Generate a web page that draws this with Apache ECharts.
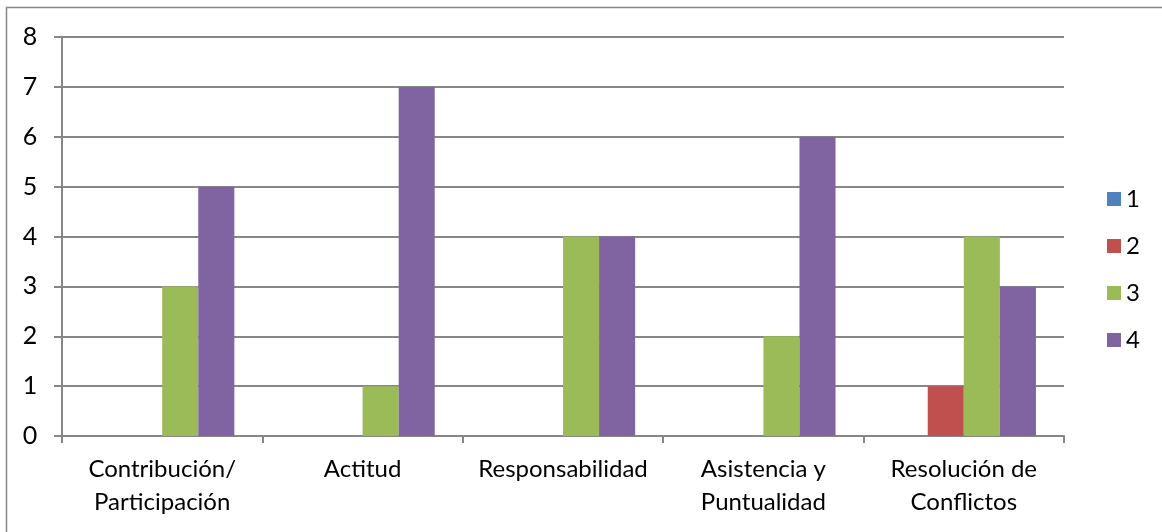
<!DOCTYPE html>
<html>
<head>
<meta charset="utf-8">
<script src="https://cdn.jsdelivr.net/npm/echarts@6/dist/echarts.min.js"></script>
<style>
  html, body { margin: 0; padding: 0; background: #fff; }
  #chart { width: 1162px; height: 532px; }
</style>
</head>
<body>
<div id="chart"></div>
<script>
// Evaluation criteria and number of responses per rating level
const categories = [
  'Contribución/\nParticipación',
  'Actitud',
  'Responsabilidad',
  'Asistencia y\nPuntualidad',
  'Resolución de\nConflictos'
];
const seriesNames = ['1', '2', '3', '4'];
const rating1 = [0, 0, 0, 0, 0];
const rating2 = [0, 0, 0, 0, 1];
const rating3 = [3, 1, 4, 2, 4];
const rating4 = [5, 7, 4, 6, 3];
const colors = ['#4f81bd', '#c0504d', '#9bbb59', '#8064a2'];

const values = [rating1, rating2, rating3, rating4];
const axisGray = '#868686';
const font = 'Lato, "Open Sans", sans-serif';

const chart = echarts.init(document.getElementById('chart'), null, { renderer: 'canvas' });
chart.setOption({
  animation: false,
  color: colors,
  graphic: [{
    type: 'rect',
    shape: { x: 6.5, y: 7.5, width: 1200, height: 600 },
    style: { fill: 'none', stroke: axisGray, lineWidth: 1.5 },
    silent: true
  }],
  grid: { left: 62, right: 98, top: 37, bottom: 96 },
  legend: {
    orient: 'vertical',
    left: 1102,
    top: 182,
    itemWidth: 14,
    itemHeight: 14,
    itemGap: 23,
    icon: 'rect',
    data: seriesNames,
    textStyle: { fontFamily: font, fontSize: 24, lineHeight: 24, color: '#000' }
  },
  xAxis: {
    type: 'category',
    data: categories,
    axisLine: { lineStyle: { color: axisGray, width: 2 } },
    axisTick: { show: true, length: 7, lineStyle: { color: axisGray, width: 2 } },
    axisLabel: {
      fontFamily: font, fontSize: 24, color: '#000',
      lineHeight: 33, margin: 17, interval: 0
    }
  },
  yAxis: {
    type: 'value',
    min: 0, max: 8, interval: 1,
    axisLine: { show: true, lineStyle: { color: axisGray, width: 2 } },
    axisTick: { show: true, length: 8, lineStyle: { color: axisGray, width: 2 } },
    splitLine: { lineStyle: { color: axisGray, width: 2 } },
    axisLabel: { fontFamily: font, fontSize: 25, color: '#000', margin: 32, align: 'center' }
  },
  series: seriesNames.map((name, i) => ({
    name: name,
    type: 'bar',
    data: values[i],
    barGap: '0%',
    barCategoryGap: '28%',
    itemStyle: { color: colors[i] }
  }))
});
</script>
</body>
</html>
